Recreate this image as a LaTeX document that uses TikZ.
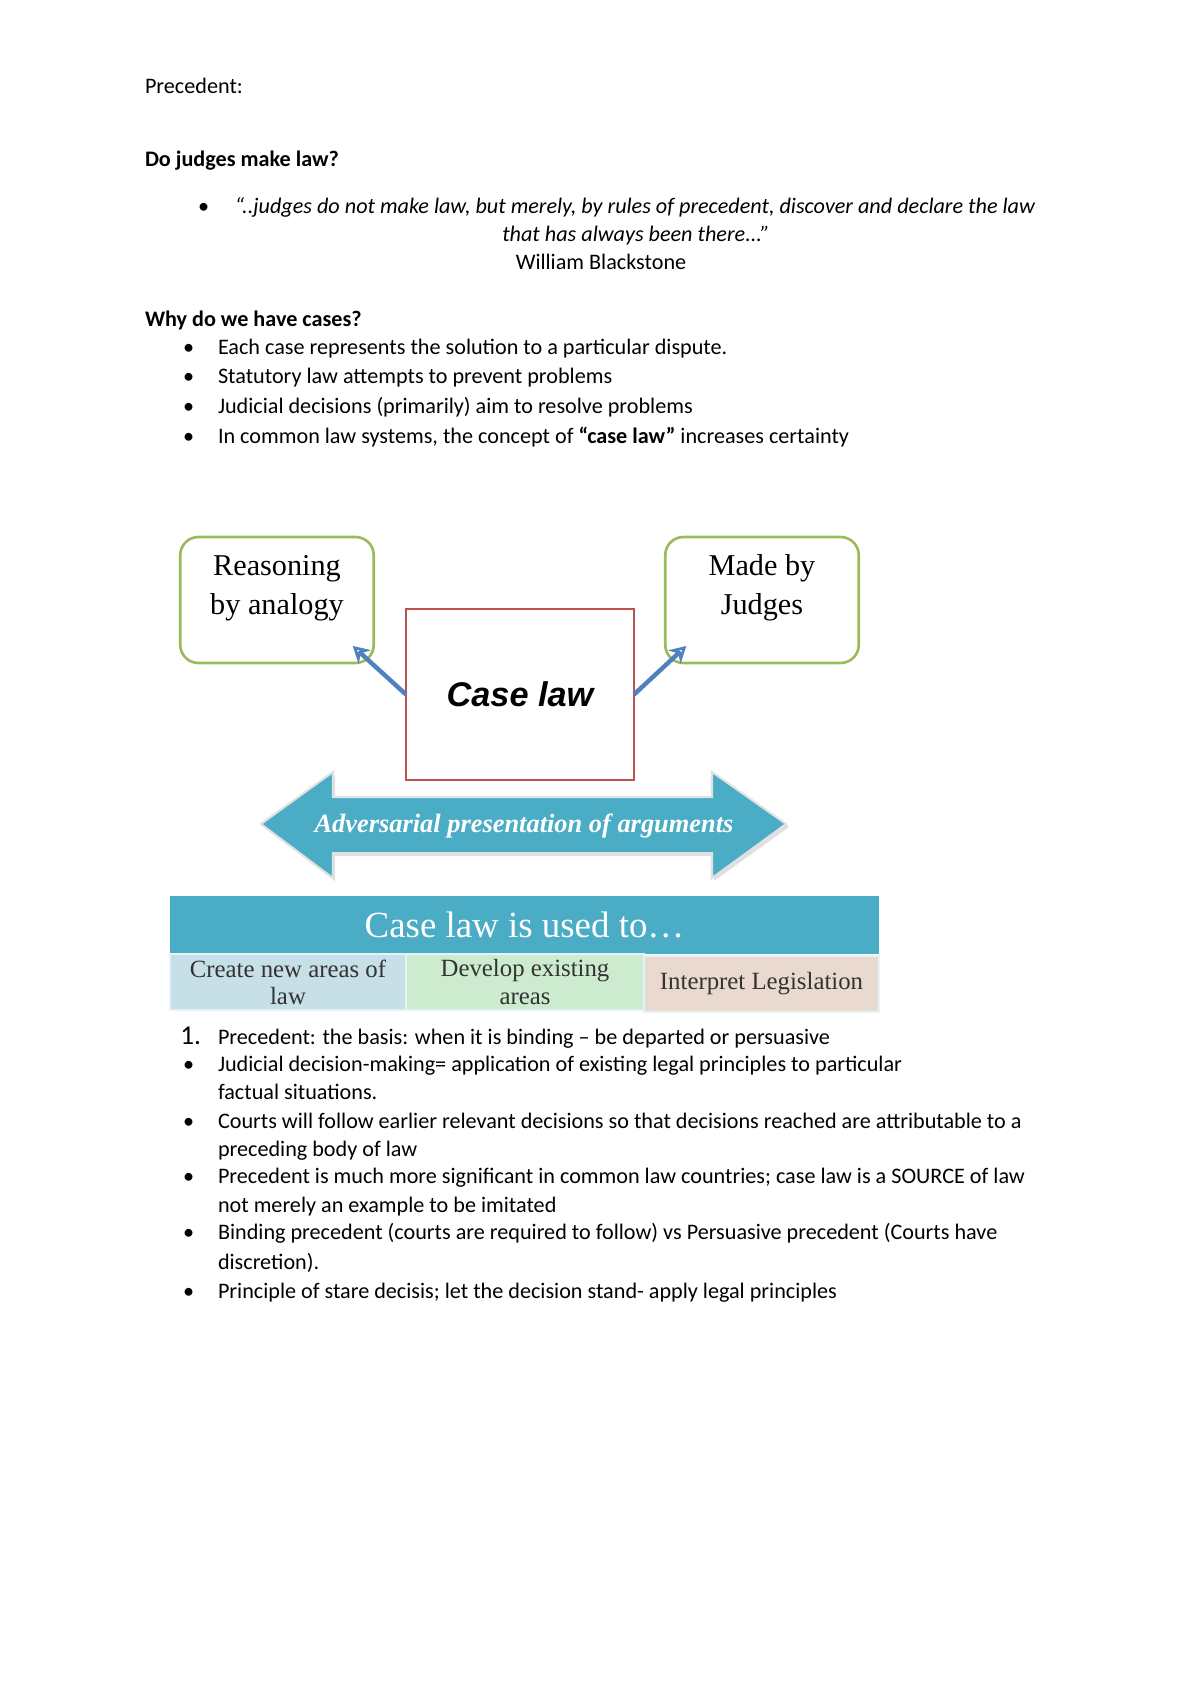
\documentclass[tikz,border=0pt]{standalone}
\usepackage{fontspec}
\setmainfont{Carlito}
\newfontfamily\gserif{Liberation Serif}
\newfontfamily\asans{Liberation Sans}
\usetikzlibrary{arrows.meta,calc}
\definecolor{cyanA}{HTML}{4BACC6}
\definecolor{grnA}{HTML}{9BBB59}
\definecolor{redA}{HTML}{C0504D}
\definecolor{bluA}{HTML}{4F81BD}
\definecolor{cellB}{HTML}{C7DFE6}
\definecolor{cellG}{HTML}{CDEBCE}
\definecolor{cellP}{HTML}{EAD9CF}
\definecolor{celltxt}{HTML}{333333}
\tikzset{
  body/.style={anchor=base west, inner sep=0pt, outer sep=0pt, font=\fontsize{11}{13}\selectfont},
  bul/.style={anchor=base west, inner sep=0pt, outer sep=0pt, font=\fontsize{11}{13}\selectfont},
  gbox/.style={draw=grnA, line width=1.3pt, rounded corners=9pt, minimum width=96pt, minimum height=62.5pt, inner sep=0pt, outer sep=0pt},
  gtext/.style={align=center, inner sep=0pt, font=\gserif\fontsize{15}{19.3}\selectfont},
  casebox/.style={draw=redA, line width=1.1pt, minimum width=113.1pt, minimum height=84.8pt, inner sep=0pt, outer sep=0pt},
  connector/.style={draw=bluA, line width=2.2pt, -{Stealth[length=8pt,width=9pt,open,line width=1.8pt]}},
  cell/.style={minimum height=27.8pt, inner sep=0pt, outer sep=0pt, align=center, text=celltxt, draw=white!85!cyanA, line width=0.6pt, font=\gserif\fontsize{12.3}{13.4}\selectfont}
}
\begin{document}
\begin{tikzpicture}[x=0.49606pt,y=-0.49606pt]
\useasboundingbox[fill=white] (0,0) rectangle (1200,1698);

% header text
\node[body] (t1) at (145,93) {Precedent:};
\node[body] (t2) at (145,166) {\bfseries Do judges make law?};
\node[bul] (b0) at (198,213) {•};
\node[anchor=base, inner sep=0pt, font=\itshape\fontsize{11}{13}\selectfont] (q1) at (635,213) {“..judges do not make law, but merely, by rules of precedent, discover and declare the law};
\node[anchor=base, inner sep=0pt, font=\itshape\fontsize{11}{13}\selectfont] (q2) at (636,241) {that has always been there...”};
\node[anchor=base, inner sep=0pt, font=\fontsize{11}{13}\selectfont] (q3) at (601,269) {William Blackstone};
\node[body] (t3) at (145,326) {\bfseries Why do we have cases?};
\node[bul] (b1) at (183,354) {•};
\node[body] (l1) at (218,354) {Each case represents the solution to a particular dispute.};
\node[bul] (b2) at (183,383) {•};
\node[body] (l2) at (218,383) {Statutory law attempts to prevent problems};
\node[bul] (b3) at (183,413) {•};
\node[body] (l3) at (218,413) {Judicial decisions (primarily) aim to resolve problems};
\node[bul] (b4) at (183,443) {•};
\node[body] (l4) at (218,443) {In common law systems, the concept of \textbf{“case law”} increases certainty};

% diagram
\node[gbox] (reason) at (277,600) {};
\node[gtext] (reasonT) at (277,588) {Reasoning\\by analogy};
\node[gbox] (judge) at (762,600) {};
\node[gtext] (judgeT) at (762,588) {Made by\\Judges};
\node[casebox, font=\asans\bfseries\itshape\fontsize{17}{20}\selectfont] (case) at (520,694.5) {Case law};
\draw[connector] (case.west) -- ($(reason.south east)+(-21,-17)$);
\draw[connector] (case.east) -- ($(judge.south west)+(21,-17)$);

% double arrow
\fill[black!12] (264,827) -- (335,775) -- (335,800) -- (714,800) -- (714,775) -- (789,827) -- (714,881) -- (714,856) -- (335,856) -- (335,881) -- cycle;
\filldraw[fill=cyanA, draw=white!88!black, line width=1pt] (261,824) -- (333,772) -- (333,797) -- (712,797) -- (712,772) -- (786,824) -- (712,878) -- (712,853) -- (333,853) -- (333,878) -- cycle;
\node[text=white, inner sep=0pt, font=\gserif\bfseries\itshape\fontsize{13.1}{14}\selectfont] (adv) at (524,826) {Adversarial presentation of arguments};

% table
\node[fill=cyanA, minimum width=351.7pt, minimum height=28.8pt, inner sep=0pt, outer sep=0pt, text=white, font=\gserif\fontsize{18.3}{20}\selectfont] (bar) at (524.5,925) {Case law is used to…};
\node[cell, fill=cellB, minimum width=117.1pt] (c1) at (288,982) {Create new areas of\\law};
\node[cell, fill=cellG, minimum width=118.1pt] (c2) at (525,982) {Develop existing\\areas};
\node[cell, fill=cellP, minimum width=116.6pt] (c3) at (761.5,984) {Interpret Legislation};

% lower list
\node[anchor=base west, inner sep=0pt, font=\fontsize{13.5}{15}\selectfont] (n1) at (180,1044) {1.};
\node[body] (m1) at (218,1044) {Precedent: the basis: when it is binding – be departed or persuasive};
\node[bul] (d2) at (183,1071) {•};
\node[body] (m2) at (218,1071) {Judicial decision-making= application of existing legal principles to particular};
\node[body] (m2b) at (218,1099) {factual situations.};
\node[bul] (d3) at (183,1128) {•};
\node[body] (m3) at (218,1128) {Courts will follow earlier relevant decisions so that decisions reached are attributable to a};
\node[body] (m3b) at (218,1156) {preceding body of law};
\node[bul] (d4) at (183,1183) {•};
\node[body] (m4) at (218,1183) {Precedent is much more significant in common law countries; case law is a SOURCE of law};
\node[body] (m4b) at (218,1212) {not merely an example to be imitated};
\node[bul] (d5) at (183,1239) {•};
\node[body] (m5) at (218,1239) {Binding precedent (courts are required to follow) vs Persuasive precedent (Courts have};
\node[body] (m5b) at (218,1269) {discretion).};
\node[bul] (d6) at (183,1298) {•};
\node[body] (m6) at (218,1298) {Principle of stare decisis; let the decision stand- apply legal principles};
\end{tikzpicture}
\end{document}
